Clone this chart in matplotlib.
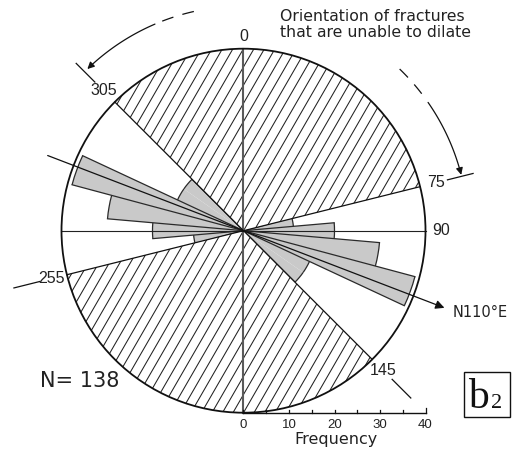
import numpy as np
import matplotlib
matplotlib.use("Agg")
import matplotlib.pyplot as plt
from matplotlib.patches import Wedge, Circle, Rectangle, FancyArrowPatch, Arc
from matplotlib.collections import LineCollection
from matplotlib.path import Path

# ---------------- data ----------------
bin_centers = [80, 90, 100, 110, 120, 130]      # compass degrees (rose is mirrored at +180)
frequencies = [11, 20, 30, 39, 16, 16]
bin_width = 10
freq_ticks = [0, 10, 20, 30, 40]
freq_minor = [5, 15, 25, 35]
r_max = 40
n_total = 138
mean_direction = 111            # drawn direction of the N110°E arrow
mean_label = "N110°E"
boundary_angles = [76, 135, 256, 315]   # drawn positions of the sector limits
boundary_labels = ["75", "145", "255", "305"]
hatched_sectors = [(315, 76), (135, 256)]  # clockwise compass start -> end
cardinal_labels = {0: "0", 90: "90"}

# ---------------- figure ----------------
W, H, DPI = 517, 454, 100
SCALE = 4.55                     # px per frequency unit
CX, CY = 243.5, 230.7            # centre in pixels (from top-left)
fig = plt.figure(figsize=(W / DPI, H / DPI), dpi=DPI)
ax = fig.add_axes([0, 0, 1, 1])
ax.set_xlim(-CX / SCALE, (W - CX) / SCALE)
ax.set_ylim(-(H - CY) / SCALE, CY / SCALE)
ax.axis("off")

SANS = "Liberation Sans"
WIDE = "DejaVu Sans"


def cxy(a, r):
    t = np.deg2rad(90 - a)
    return r * np.cos(t), r * np.sin(t)


# ---------------- rose bars ----------------
bar_fc = "#c9c9c9"
bar_ec = "#2a2a2a"
for off in (0, 180):
    for c, v in zip(bin_centers, frequencies):
        a1, a2 = c - bin_width / 2 + off, c + bin_width / 2 + off
        ax.add_patch(Wedge((0, 0), v, 90 - a2, 90 - a1, facecolor=bar_fc,
                           edgecolor="none", zorder=1))
        ax.add_patch(Arc((0, 0), 2 * v, 2 * v, theta1=90 - a2, theta2=90 - a1,
                         color=bar_ec, lw=0.9, zorder=1.2))
    # radial edges
    edges = [(bin_centers[0] - bin_width / 2, frequencies[0])]
    for i in range(len(frequencies) - 1):
        if frequencies[i] != frequencies[i + 1]:
            edges.append((bin_centers[i] + bin_width / 2,
                          max(frequencies[i], frequencies[i + 1])))
    edges.append((bin_centers[-1] + bin_width / 2, frequencies[-1]))
    for a, r in edges:
        x, y = cxy(a + off, r)
        ax.plot([0, x], [0, y], color=bar_ec, lw=0.9, zorder=1.2)

# ---------------- hatched sectors ----------------
ang = np.deg2rad(60)
u = np.array([np.cos(ang), np.sin(ang)])
nrm = np.array([np.sin(ang), -np.cos(ang)])
spacing = 2.0
segs = []
for d in np.arange(-60, 60, spacing):
    p = d * nrm
    segs.append([p - 60 * u, p + 60 * u])
for a_start, a_end in hatched_sectors:
    w = Wedge((0, 0), r_max, 90 - a_end, 90 - a_start, facecolor="white",
              edgecolor="none", zorder=2)
    ax.add_patch(w)
    lc = LineCollection(segs, colors="#222222", linewidths=0.75, zorder=2.2)
    ax.add_collection(lc)
    lc.set_clip_path(w)

# ---------------- reference lines ----------------
ax.plot([0, 0], [-r_max, r_max], color="#5a5a5a", lw=1.5, zorder=3)
ax.plot([-r_max, r_max], [0, 0], color="#222222", lw=0.8, zorder=3)

for a, lab in zip(boundary_angles, boundary_labels):
    x, y = cxy(a, r_max)
    ax.plot([0, x], [0, y], color="#111111", lw=0.9, zorder=3)
    x1, y1 = cxy(a, 46.2)
    x2, y2 = cxy(a, 52.0)
    ax.plot([x1, x2], [y1, y2], color="#111111", lw=0.9, zorder=3)
    tx, ty = cxy(a, 43.5)
    ax.text(tx, ty, lab, fontsize=11.5, family=SANS, ha="center",
            va="center", color="#222222", zorder=4)

for a, lab in cardinal_labels.items():
    tx, ty = cxy(a, 42.6 if a == 0 else 43.4)
    ax.text(tx, ty, lab, fontsize=11.5, family=SANS, ha="center",
            va="center", color="#222222", zorder=4)

# mean direction line with arrow
x0, y0 = cxy(mean_direction + 180, 46.1)
x1, y1 = cxy(mean_direction, 47.3)
ax.add_patch(FancyArrowPatch((x0, y0), (x1, y1), arrowstyle="-|>",
                             mutation_scale=13, lw=0.9, color="#111111",
                             shrinkA=0, shrinkB=0, zorder=3.5))
ax.text(46.0, -18.0, mean_label, fontsize=10.5, family=WIDE, ha="left",
        va="center", color="#222222")

# outer circle
ax.add_patch(Circle((0, 0), r_max, fill=False, lw=1.3, ec="#111111", zorder=5))

# ---------------- curved arrows ----------------
R_ARC = 49.4


def arc_pts(a_from, a_to, n=60):
    aa = np.linspace(a_from, a_to, n)
    return np.column_stack(cxy(aa, R_ARC))


for solid, dashed in [((336.8, 316.0), (338.8, 347.9)),
                      ((55.2, 75.6), (44.0, 53.3))]:
    pts = arc_pts(*solid)
    ax.add_patch(FancyArrowPatch(path=Path(pts), arrowstyle="-|>",
                                 mutation_scale=10, lw=0.9, color="#111111",
                                 zorder=3))
    dp = arc_pts(*dashed)
    ax.plot(dp[:, 0], dp[:, 1], color="#111111", lw=0.9,
            linestyle=(0, (9.5, 7.5)), zorder=3)

# ---------------- title ----------------
ax.text(8.0, 45.3, "Orientation of fractures\nthat are unable to dilate",
        fontsize=11.3, family=WIDE, ha="left", va="center",
        linespacing=1.15, color="#222222")

# ---------------- frequency scale ----------------
ax.plot([0, r_max], [-r_max, -r_max], color="#111111", lw=1.0, zorder=5)
for t in freq_ticks + freq_minor:
    h = 1.1 if t == r_max else 0.6
    ax.plot([t, t], [-r_max, -r_max + h], color="#111111", lw=0.9, zorder=5)
for t in freq_ticks:
    ax.text(t, -42.6, str(t), fontsize=9.5, family=SANS, ha="center",
            va="center", color="#222222")
ax.text(20.3, -46.0, "Frequency", fontsize=11.5, family=WIDE, ha="center",
        va="center", color="#222222")

# ---------------- N and panel label ----------------
ax.text(-44.7, -33.1, f"N= {n_total}", fontsize=15, family=WIDE, ha="left",
        va="center", color="#222222")
ax.add_patch(Rectangle((48.45, -40.9), 10.1, 9.9, fill=False, lw=1.0,
                       ec="#111111"))
ax.text(49.3, -39.0, "b", fontsize=30, family="Liberation Serif", ha="left",
        va="baseline", color="#111111")
ax.text(54.3, -39.0, "2", fontsize=16, family="Liberation Serif", ha="left",
        va="baseline", color="#111111")

fig.savefig("out.png", dpi=DPI)
